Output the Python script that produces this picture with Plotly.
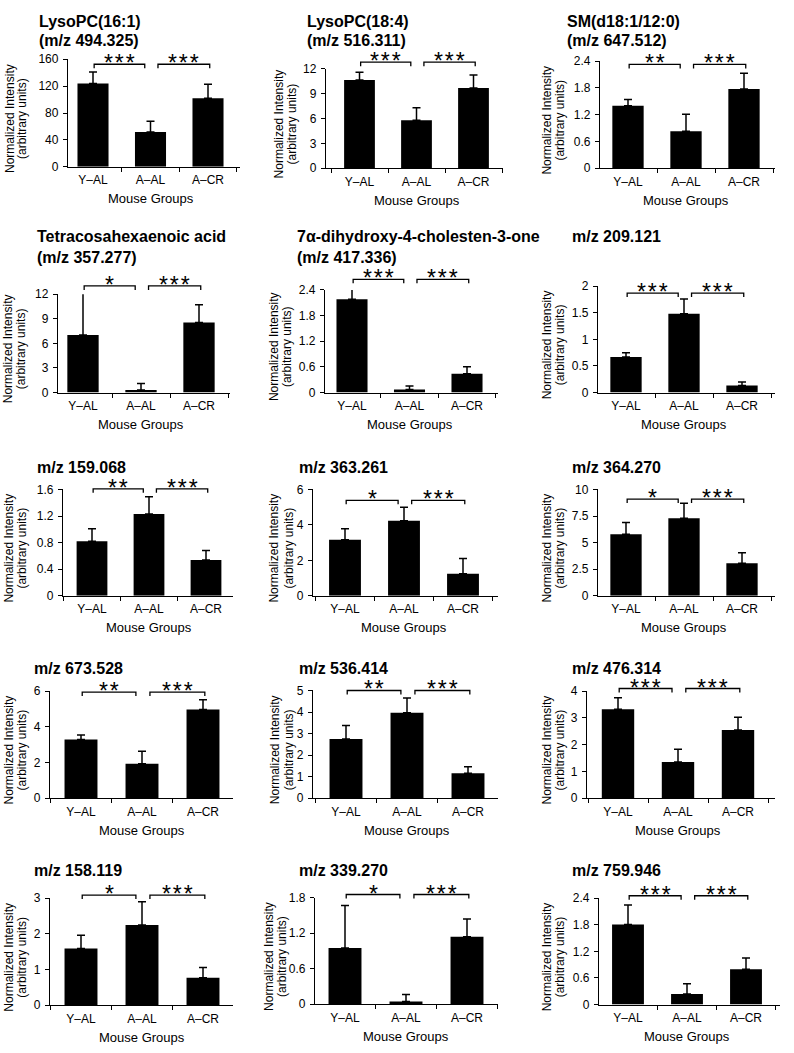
import plotly.graph_objects as go

# ---------------- data ----------------
groups = ["Y\u2013AL", "A\u2013AL", "A\u2013CR"]

titles = [
    ["LysoPC(16:1)", "(m/z 494.325)"],
    ["LysoPC(18:4)", "(m/z 516.311)"],
    ["SM(d18:1/12:0)", "(m/z 647.512)"],
    ["Tetracosahexaenoic acid", "(m/z 357.277)"],
    ["7\u03b1-dihydroxy-4-cholesten-3-one", "(m/z 417.336)"],
    ["m/z 209.121"],
    ["m/z 159.068"],
    ["m/z 363.261"],
    ["m/z 364.270"],
    ["m/z 673.528"],
    ["m/z 536.414"],
    ["m/z 476.314"],
    ["m/z 158.119"],
    ["m/z 339.270"],
    ["m/z 759.946"],
]

lysopc_16_1_mean = [124, 52, 102]
lysopc_16_1_err = [17, 16, 21]
lysopc_18_4_mean = [10.65, 5.8, 9.7]
lysopc_18_4_err = [0.95, 1.5, 1.55]
sm_d18_mean = [1.40, 0.83, 1.78]
sm_d18_err = [0.14, 0.38, 0.35]
tetracosa_mean = [7.0, 0.3, 8.55]
tetracosa_err = [5.1, 0.8, 2.15]
cholesten_mean = [2.18, 0.07, 0.44]
cholesten_err = [0.28, 0.08, 0.16]
mz209_mean = [0.67, 1.48, 0.13]
mz209_err = [0.08, 0.28, 0.07]
mz159_mean = [0.82, 1.23, 0.54]
mz159_err = [0.19, 0.26, 0.14]
mz363_mean = [3.16, 4.24, 1.25]
mz363_err = [0.62, 0.76, 0.85]
mz364_mean = [5.8, 7.3, 3.05]
mz364_err = [1.1, 1.4, 1.0]
mz673_mean = [3.28, 1.93, 4.97]
mz673_err = [0.25, 0.70, 0.55]
mz536_mean = [2.75, 3.97, 1.15]
mz536_err = [0.62, 0.68, 0.30]
mz476_mean = [3.32, 1.35, 2.54]
mz476_err = [0.43, 0.47, 0.48]
mz158_mean = [1.59, 2.25, 0.77]
mz158_err = [0.37, 0.65, 0.29]
mz339_mean = [0.95, 0.045, 1.14]
mz339_err = [0.72, 0.12, 0.30]
mz759_mean = [1.81, 0.24, 0.80]
mz759_err = [0.44, 0.23, 0.25]

means = [lysopc_16_1_mean, lysopc_18_4_mean, sm_d18_mean, tetracosa_mean,
         cholesten_mean, mz209_mean, mz159_mean, mz363_mean, mz364_mean,
         mz673_mean, mz536_mean, mz476_mean, mz158_mean, mz339_mean, mz759_mean]
errors = [lysopc_16_1_err, lysopc_18_4_err, sm_d18_err, tetracosa_err,
          cholesten_err, mz209_err, mz159_err, mz363_err, mz364_err,
          mz673_err, mz536_err, mz476_err, mz158_err, mz339_err, mz759_err]

significance = [
    ["***", "***"], ["***", "***"], ["**", "***"],
    ["*", "***"], ["***", "***"], ["***", "***"],
    ["**", "***"], ["*", "***"], ["*", "***"],
    ["**", "***"], ["**", "***"], ["***", "***"],
    ["*", "***"], ["*", "***"], ["***", "***"],
]

yticks = [
    [0, 40, 80, 120, 160], [0, 3, 6, 9, 12], [0, 0.6, 1.2, 1.8, 2.4],
    [0, 3, 6, 9, 12], [0, 0.6, 1.2, 1.8, 2.4], [0, 0.5, 1, 1.5, 2],
    [0, 0.4, 0.8, 1.2, 1.6], [0, 2, 4, 6], [0, 2.5, 5, 7.5, 10],
    [0, 2, 4, 6], [0, 1, 2, 3, 4, 5], [0, 1, 2, 3, 4],
    [0, 1, 2, 3], [0, 0.6, 1.2, 1.8], [0, 0.6, 1.2, 1.8, 2.4],
]

# ---------------- layout geometry (pixels) ----------------
W, H = 794, 1053
axis_left = [68, 326, 600, 58, 325, 598, 63, 313, 598, 50, 313, 587, 50, 315, 599]
axis_right = [240, 503, 775, 230, 498, 775, 233, 498, 775, 233, 498, 775, 233, 498, 780]
axis_top = [53, 62.7, 55, 291, 286.7, 283, 489, 489, 489, 693.3, 692.7, 693.3, 903.3, 902.7, 903.3]
axis_zero = [162, 163.3, 163.3, 390.7, 390.7, 390.7, 596.7, 596.7, 596.7,
             801.7, 801.7, 801.7, 1011.7, 1010.7, 1011]
first_center = [93, 359.5, 628, 83, 352, 626, 92, 345, 626, 81, 346, 618, 81, 345, 628]
spacing = [57.5, 57, 58, 58, 57.5, 58, 57, 59, 58, 61, 61, 60, 61, 61, 59]
bracket_frac = [0.954, 1.067, 0.97, 1.083, 1.103, 0.935, 1.006, 0.898, 0.91,
                0.99, 1.0, 1.024, 1.03, 1.03, 1.024]
title_x = [37, 305, 565, 35, 295, 570, 35, 297, 570, 32, 297, 570, 32, 297, 570]
title_y = [15, 15, 15, 233, 233, 233, 467, 467, 467, 670, 670, 670, 875, 875, 875]
title_gap = [19, 19, 19, 21, 21, 21, 0, 0, 0, 0, 0, 0, 0, 0, 0]
ylab_x = [(10, 22), (279, 292), (547, 560), (8, 21), (274, 287), (547, 560),
          (9, 22), (274, 289), (547, 560), (9, 22), (275, 289), (547, 560),
          (9, 22), (269, 282), (547, 560)]

FONT = "Liberation Sans, Arial, Helvetica, sans-serif"
BLACK = "#000000"
HAIR = "\u200a"

fig = go.Figure()
shapes = []
annotations = []

for i in range(15):
    n = i + 1
    xa = "x" if n == 1 else f"x{n}"
    ya = "y" if n == 1 else f"y{n}"
    ymax = yticks[i][-1]
    r0 = -(first_center[i] - axis_left[i]) / spacing[i]
    r1 = (axis_right[i] - first_center[i]) / spacing[i]
    plot_h = axis_zero[i] - axis_top[i]

    fig.add_trace(go.Bar(
        x=[0, 1, 2], y=means[i],
        marker=dict(color=BLACK, line=dict(width=0)),
        width=0.54,
        error_y=dict(type="data", symmetric=False, array=errors[i],
                     arrayminus=[0, 0, 0], color=BLACK, thickness=1.5, width=4),
        xaxis=xa, yaxis=ya, showlegend=False, hoverinfo="skip",
    ))

    fig.layout[f"xaxis{'' if n == 1 else n}"] = dict(
        domain=[axis_left[i] / W, axis_right[i] / W],
        anchor=ya, range=[r0, r1],
        tickvals=[0, 1, 2], ticktext=groups,
        ticks="", showgrid=False, zeroline=False,
        showline=True, linecolor=BLACK, linewidth=1.3,
        minor=dict(ticks="outside", tick0=0.5, dtick=1, ticklen=4,
                   tickcolor=BLACK, tickwidth=1.2, showgrid=False),
        tickfont=dict(family=FONT, size=12, color=BLACK),
        ticklabelstandoff=2,
        fixedrange=True,
    )
    fig.layout[f"yaxis{'' if n == 1 else n}"] = dict(
        domain=[1 - axis_zero[i] / H, 1 - axis_top[i] / H],
        anchor=xa, range=[0, ymax],
        tickvals=yticks[i], ticktext=[f"{v:g}" for v in yticks[i]],
        ticks="outside", ticklen=4, tickwidth=1.2, tickcolor=BLACK,
        showgrid=False, zeroline=False,
        showline=True, linecolor=BLACK, linewidth=1.3,
        tickfont=dict(family=FONT, size=12, color=BLACK),
        ticklabelstandoff=2,
        fixedrange=True,
    )

    # significance brackets (x in axis-domain fraction, y in y-domain fraction)
    def dx(v):
        return (v - r0) / (r1 - r0)
    yb = bracket_frac[i]
    drop = 4.0 / plot_h
    for (a, b), star in zip([(0.02, 0.9), (1.13, 2.03)], significance[i]):
        shapes.append(dict(
            type="path", xref=f"{xa} domain", yref=f"{ya} domain",
            path=f"M {dx(a)} {yb - drop} L {dx(a)} {yb} L {dx(b)} {yb} L {dx(b)} {yb - drop}",
            line=dict(color=BLACK, width=1.3),
        ))
        annotations.append(dict(
            x=(a + b) / 2, y=yb, xref=xa, yref=f"{ya} domain",
            text=HAIR.join(star), showarrow=False, yanchor="middle", yshift=1,
            font=dict(family=FONT, size=23, color=BLACK),
        ))

    # x axis title
    annotations.append(dict(
        x=1, y=0, xref=xa, yref=f"{ya} domain", text="Mouse Groups",
        showarrow=False, yanchor="middle", yshift=-32,
        font=dict(family=FONT, size=13, color=BLACK),
    ))

    # y axis title (two rotated lines)
    ymid = 1 - ((axis_top[i] + axis_zero[i]) / 2 + 6) / H
    for txt, px in zip(["Normalized Intensity", "(arbitrary units)"], ylab_x[i]):
        annotations.append(dict(
            x=px / W, y=ymid, xref="paper", yref="paper", text=txt,
            textangle=-90, showarrow=False, xanchor="center", yanchor="middle",
            font=dict(family=FONT, size=12, color=BLACK),
        ))

    # panel title
    for k, line in enumerate(titles[i]):
        annotations.append(dict(
            x=title_x[i] / W, y=1 - (title_y[i] + k * title_gap[i]) / H,
            xref="paper", yref="paper", text=f"<b>{line}</b>",
            showarrow=False, xanchor="left", yanchor="middle",
            font=dict(family=FONT, size=16, color=BLACK),
        ))

fig.update_layout(
    width=W, height=H,
    margin=dict(l=0, r=0, t=0, b=0),
    paper_bgcolor="white", plot_bgcolor="white",
    shapes=shapes, annotations=annotations,
)

fig.write_html(
    "out.html",
    config={"displayModeBar": False},
    post_script="document.body.style.margin='0';document.body.style.overflow='hidden';",
)
